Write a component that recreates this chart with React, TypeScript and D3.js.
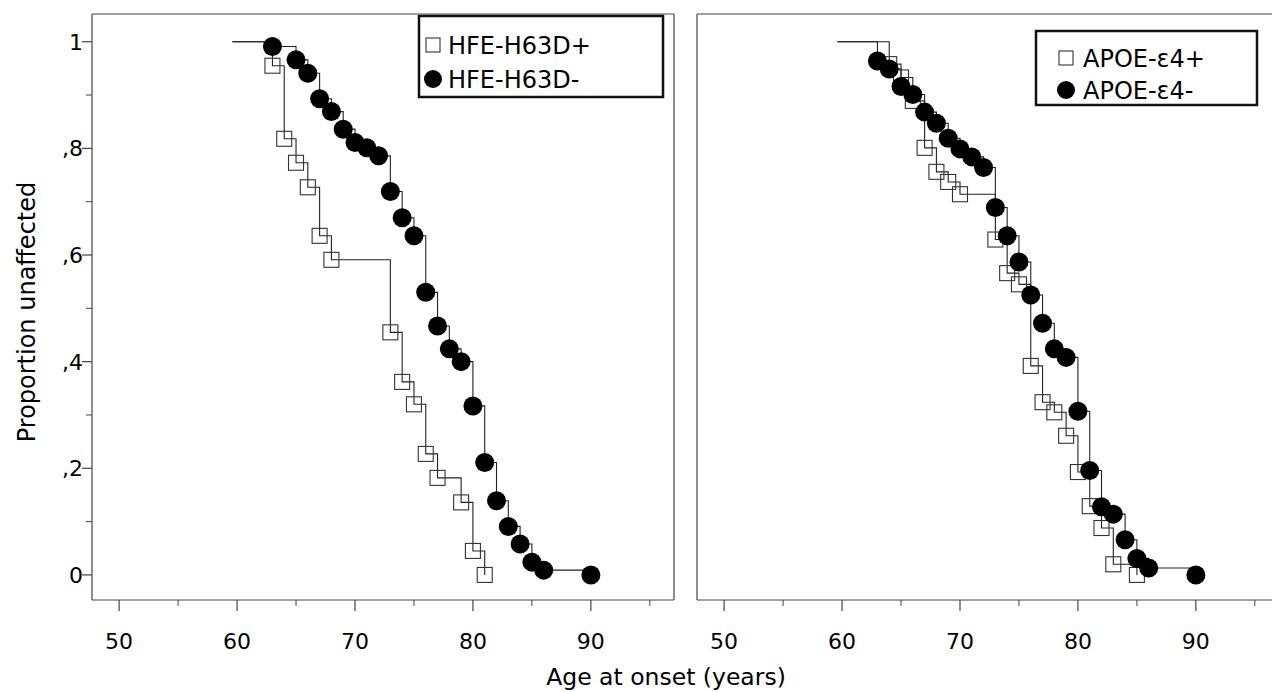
import React, { useRef, useEffect } from 'react';
import * as d3 from 'd3';

// Kaplan-Meier estimates (age at onset, proportion unaffected)
const hfePosAges = [63, 64, 65, 66, 67, 68, 73, 74, 75, 76, 77, 79, 80, 81];
const hfePosSurv = [0.955, 0.818, 0.773, 0.727, 0.636, 0.591, 0.455, 0.362, 0.32, 0.227, 0.182, 0.136, 0.045, 0];

const hfeNegAges = [63, 65, 66, 67, 68, 69, 70, 71, 72, 73, 74, 75, 76, 77, 78, 79, 80, 81, 82, 83, 84, 85, 86, 90];
const hfeNegSurv = [0.991, 0.966, 0.941, 0.893, 0.869, 0.836, 0.811, 0.801, 0.786, 0.719, 0.67, 0.636, 0.53, 0.467, 0.424, 0.4, 0.317, 0.211, 0.139, 0.091, 0.058, 0.024, 0.009, 0];

const apoePosAges = [64, 65, 66, 67, 68, 69, 70, 73, 74, 75, 76, 77, 78, 79, 80, 81, 82, 83, 85];
const apoePosSurv = [0.958, 0.933, 0.889, 0.801, 0.756, 0.737, 0.714, 0.629, 0.566, 0.545, 0.392, 0.324, 0.305, 0.261, 0.193, 0.129, 0.088, 0.02, 0];

const apoeNegAges = [63, 64, 65, 66, 67, 68, 69, 70, 71, 72, 73, 74, 75, 76, 77, 78, 79, 80, 81, 82, 83, 84, 85, 86, 90];
const apoeNegSurv = [0.964, 0.949, 0.916, 0.901, 0.868, 0.847, 0.819, 0.799, 0.784, 0.764, 0.689, 0.636, 0.587, 0.525, 0.472, 0.424, 0.408, 0.307, 0.196, 0.128, 0.114, 0.066, 0.031, 0.013, 0];

const startAge = 59.6;

const xTicks = [50, 60, 70, 80, 90];
const xMinorTicks = [55, 65, 75, 85, 95];
const yTicks = [0, 0.2, 0.4, 0.6, 0.8, 1];
const yTickLabels = ['0', ',2', ',4', ',6', ',8', '1'];
const yMinorTicks = [0.1, 0.3, 0.5, 0.7, 0.9];

const leftLegend = ['HFE-H63D+', 'HFE-H63D-'];
const rightLegend = ['APOE-\u03b54+', 'APOE-\u03b54-'];

const KMChart = () => {
    const ref = useRef(null);

    useEffect(() => {
        d3.select(ref.current).selectAll("*").remove();

        const svg = d3.select(ref.current)
            .attr("width", 1272)
            .attr("height", 692);

        const font = "'DejaVu Sans', sans-serif";
        const axisColor = "#444";
        const panelWidth = 582;
        const top = 14, bottom = 600;

        const y = d3.scaleLinear().domain([-0.047, 1.052]).range([bottom, top]);

        const line = (x) => d3.line()
            .x(d => x(d[0]))
            .y(d => y(d[1]))
            .curve(d3.curveStepAfter);

        const drawPanel = (left, series, showY, drawRight, legend) => {
            const x = d3.scaleLinear().domain([47.7, 97.05]).range([left, left + panelWidth]);
            const g = svg.append("g");

            // frame
            g.append("line").attr("x1", left).attr("x2", left).attr("y1", top).attr("y2", bottom)
                .attr("stroke", axisColor).attr("stroke-width", 1.2);
            g.append("line").attr("x1", left).attr("x2", left + panelWidth).attr("y1", top).attr("y2", top)
                .attr("stroke", axisColor).attr("stroke-width", 1.2);
            g.append("line").attr("x1", left).attr("x2", left + panelWidth).attr("y1", bottom).attr("y2", bottom)
                .attr("stroke", axisColor).attr("stroke-width", 1.2);
            if (drawRight) {
                g.append("line").attr("x1", left + panelWidth).attr("x2", left + panelWidth).attr("y1", top).attr("y2", bottom)
                    .attr("stroke", axisColor).attr("stroke-width", 1.2);
            }

            // x ticks
            xTicks.forEach(t => {
                g.append("line").attr("x1", x(t)).attr("x2", x(t)).attr("y1", bottom).attr("y2", bottom + 11)
                    .attr("stroke", axisColor).attr("stroke-width", 1.2);
                g.append("text").attr("x", x(t)).attr("y", 649)
                    .attr("text-anchor", "middle").attr("font-family", font).attr("font-size", 22)
                    .attr("fill", "#000").text(t);
            });
            xMinorTicks.forEach(t => {
                if (x(t) < left + panelWidth) {
                    g.append("line").attr("x1", x(t)).attr("x2", x(t)).attr("y1", bottom).attr("y2", bottom + 6)
                        .attr("stroke", axisColor).attr("stroke-width", 1);
                }
            });

            if (showY) {
                yTicks.forEach((t, i) => {
                    g.append("line").attr("x1", left - 10).attr("x2", left).attr("y1", y(t)).attr("y2", y(t))
                        .attr("stroke", axisColor).attr("stroke-width", 1.2);
                    g.append("text").attr("x", 83).attr("y", y(t) + 8)
                        .attr("text-anchor", "end").attr("font-family", font).attr("font-size", 22)
                        .attr("fill", "#000").text(yTickLabels[i]);
                });
                yMinorTicks.forEach(t => {
                    g.append("line").attr("x1", left - 6).attr("x2", left).attr("y1", y(t)).attr("y2", y(t))
                        .attr("stroke", axisColor).attr("stroke-width", 1);
                });
            }

            // step curves
            series.forEach(s => {
                const pts = [[startAge, 1]].concat(s.ages.map((a, i) => [a, s.surv[i]]));
                g.append("path")
                    .datum(pts)
                    .attr("fill", "none")
                    .attr("stroke", "#222")
                    .attr("stroke-width", 1.1)
                    .attr("d", line(x));
            });

            // markers: squares first, circles on top
            series.forEach(s => {
                s.ages.forEach((a, i) => {
                    if (s.kind === "square") {
                        g.append("rect")
                            .attr("x", x(a) - 7.5).attr("y", y(s.surv[i]) - 7.5)
                            .attr("width", 15).attr("height", 15)
                            .attr("fill", "none").attr("stroke", "#333").attr("stroke-width", 1.1);
                    } else {
                        g.append("circle")
                            .attr("cx", x(a)).attr("cy", y(s.surv[i])).attr("r", 9.5)
                            .attr("fill", "#000");
                    }
                });
            });

            // legend
            const lg = svg.append("g");
            lg.append("rect")
                .attr("x", legend.x).attr("y", legend.y).attr("width", legend.w).attr("height", legend.h)
                .attr("fill", "#fff").attr("stroke", "#111").attr("stroke-width", 2.5);
            legend.labels.forEach((label, i) => {
                const cy = legend.y + legend.rowY[i];
                if (i === 0) {
                    lg.append("rect").attr("x", legend.symX - 7).attr("y", cy - 7).attr("width", 14).attr("height", 14)
                        .attr("fill", "none").attr("stroke", "#333").attr("stroke-width", 1.1);
                } else {
                    lg.append("circle").attr("cx", legend.symX).attr("cy", cy).attr("r", 9).attr("fill", "#000");
                }
                lg.append("text").attr("x", legend.textX).attr("y", cy + 8.5)
                    .attr("font-family", font).attr("font-size", 24).attr("fill", "#000").text(label);
            });
        };

        drawPanel(92,
            [{ ages: hfePosAges, surv: hfePosSurv, kind: "square" }, { ages: hfeNegAges, surv: hfeNegSurv, kind: "circle" }],
            true, true,
            { x: 419, y: 16, w: 244, h: 81, rowY: [29, 63], symX: 433, textX: 448, labels: leftLegend });

        drawPanel(697,
            [{ ages: apoePosAges, surv: apoePosSurv, kind: "square" }, { ages: apoeNegAges, surv: apoeNegSurv, kind: "circle" }],
            false, false,
            { x: 1036, y: 31, w: 221, h: 74, rowY: [27, 59], symX: 1066, textX: 1083, labels: rightLegend });

        // axis titles
        svg.append("text").attr("x", 666).attr("y", 685)
            .attr("text-anchor", "middle").attr("font-family", font).attr("font-size", 23.5)
            .attr("fill", "#000").text("Age at onset (years)");
        svg.append("text")
            .attr("transform", "translate(35, 312) rotate(-90)")
            .attr("text-anchor", "middle").attr("font-family", font).attr("font-size", 24)
            .attr("fill", "#000").text("Proportion unaffected");
    }, []);

    return (
        <svg ref={ref} style={{ position: 'absolute', left: 0, top: 0, background: '#fff' }} />
    );
};

export default function App() {
    return <KMChart />;
}
